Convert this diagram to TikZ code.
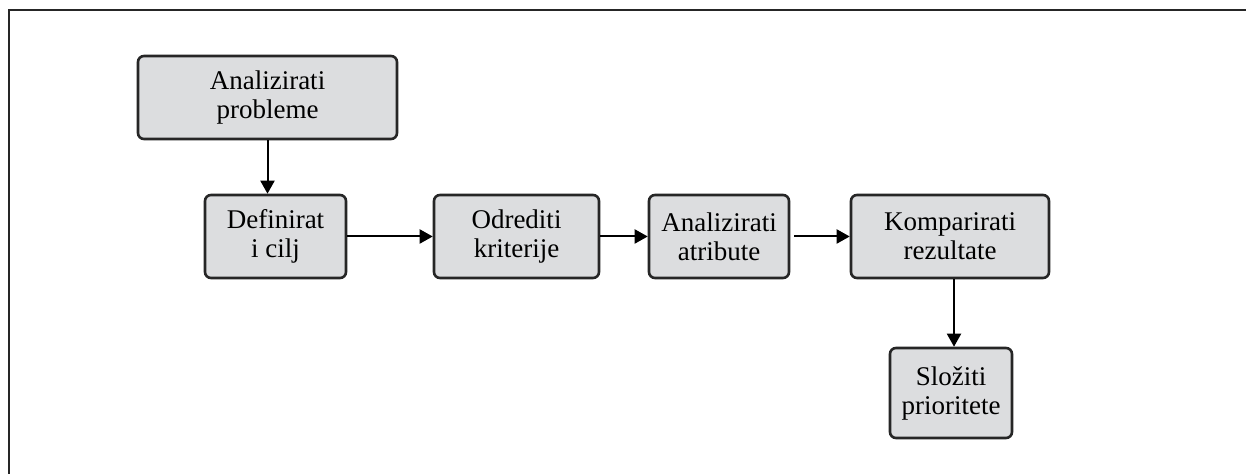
\documentclass[tikz,border=0pt]{standalone}
\usepackage{fontspec}
\setmainfont{Liberation Serif}
\usetikzlibrary{arrows.meta}
\definecolor{boxgray}{RGB}{220,221,223}
\tikzset{
  korak/.style={draw=black!85, line width=1.3pt, fill=boxgray, rounded corners=3pt,
    align=center, inner sep=0pt, minimum height=41.5pt,
    font=\fontsize{13.5}{14.5}\selectfont},
  strelica/.style={line width=1pt, -{Triangle[length=6.5pt,width=7pt]}}
}

\begin{document}
\begin{tikzpicture}[x=0.5pt,y=-0.5pt]
		\useasboundingbox (0,0) rectangle (1246,474);
		\draw[line width=1pt, black!85] (9,480) -- (9,10) -- (1250,10);
		
		\node[korak, minimum width=129.5pt] (analiza) at (267.5,97.5) {Analizirati\\probleme};
		\node[korak, minimum width=70.5pt] (ciljevi) at (275.5,236.5) {Definirat\\i cilj};
		\node[korak, minimum width=82.5pt] (kriteriji) at (516.5,236.5) {Odrediti\\kriterije};
		\node[korak, minimum width=70pt] (atributi) at (719,236.5) {Analizirati\\atribute};
		\node[korak, minimum width=99pt] (rezultati) at (950,236.5) {Komparirati\\rezultate};
		\node[korak, minimum width=61pt, minimum height=45pt] (prioriteti) at (951,393) {Složiti\\prioritete};
		
		\draw[strelica] (analiza.south) -- (analiza.south |- ciljevi.north);
		\draw[strelica] (ciljevi) -- (kriteriji);
		\draw[strelica] (kriteriji) -- (atributi);
		\draw[strelica, shorten <=2pt] (atributi) -- (rezultati);
		\draw[strelica] ([xshift=2pt]rezultati.south) -- ([xshift=2pt]rezultati.south |- prioriteti.north);
		\end{tikzpicture}
\end{document}
